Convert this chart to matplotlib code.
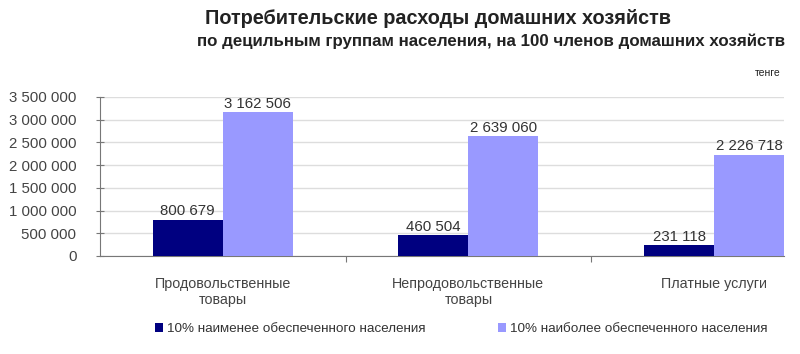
import numpy as np
import matplotlib
matplotlib.use("Agg")
import matplotlib.pyplot as plt

plt.rcParams['font.family'] = ['Liberation Sans', 'DejaVu Sans']

# данные
categories = ['Продовольственные\nтовары', 'Непродовольственные\nтовары', 'Платные услуги']
poor = [800679, 460504, 231118]    # 10% наименее обеспеченного населения
rich = [3162506, 2639060, 2226718]  # 10% наиболее обеспеченного населения
series_names = ['10% наименее обеспеченного населения', '10% наиболее обеспеченного населения']
yticks = [0, 500000, 1000000, 1500000, 2000000, 2500000, 3000000, 3500000]


def fmt(v):
    return f"{v:,}".replace(",", " ")


fig = plt.figure(figsize=(8, 3.54), dpi=100)
ax = fig.add_axes([0.125, 0.277, 0.855, 0.449])

x = np.arange(len(categories))
w = 0.285
b1 = ax.bar(x - w / 2, poor, w, color='#000080', label=series_names[0], zorder=3)
b2 = ax.bar(x + w / 2, rich, w, color='#9999FF', label=series_names[1], zorder=3)

for bars, vals in ((b1, poor), (b2, rich)):
    for r, v in zip(bars, vals):
        ax.text(r.get_x() + r.get_width() / 2, v + 30000, fmt(v), ha='center', va='bottom',
                fontsize=10.8, color='#333333')

ax.set_ylim(0, 3500000)
ax.set_xlim(-0.5, 2.285)
ax.set_yticks(yticks)
ax.set_yticklabels([fmt(t) for t in yticks], fontsize=10.8, color='#444444')
ax.yaxis.grid(True, color='#DDDDDD', linewidth=1, zorder=0)
ax.set_xticks([0.5, 1.5])
ax.set_xticklabels([])
ax.tick_params(axis='x', direction='out', length=4, color='#777777')
ax.tick_params(axis='y', direction='inout', length=6, color='#777777', pad=14)
for s in ['top', 'right']:
    ax.spines[s].set_visible(False)
ax.spines['left'].set_color('#777777')
ax.spines['bottom'].set_color('#777777')

for xi, c in zip(x, categories):
    ax.text(xi, -470000, c, ha='center', va='top', fontsize=10.3, color='#444444', linespacing=1.2)

fig.text(0.548, 0.948, 'Потребительские расходы домашних хозяйств', ha='center', va='center',
         fontsize=14.3, fontweight='bold', color='#222222')
fig.text(0.614, 0.884, 'по децильным группам населения, на 100 членов домашних хозяйств',
         ha='center', va='center', fontsize=12.2, fontweight='bold', color='#222222')
fig.text(0.976, 0.795, 'тенге', ha='right', va='center', fontsize=7.5, color='#222222')

fig.legend(handles=[b1, b2], loc='center left', bbox_to_anchor=(0.178, 0.07), ncol=2,
           frameon=False, fontsize=9.7, handlelength=0.6, handleheight=0.6, handletextpad=0.3,
           columnspacing=5.4, labelcolor='#333333')

fig.savefig('out.png', dpi=100)
